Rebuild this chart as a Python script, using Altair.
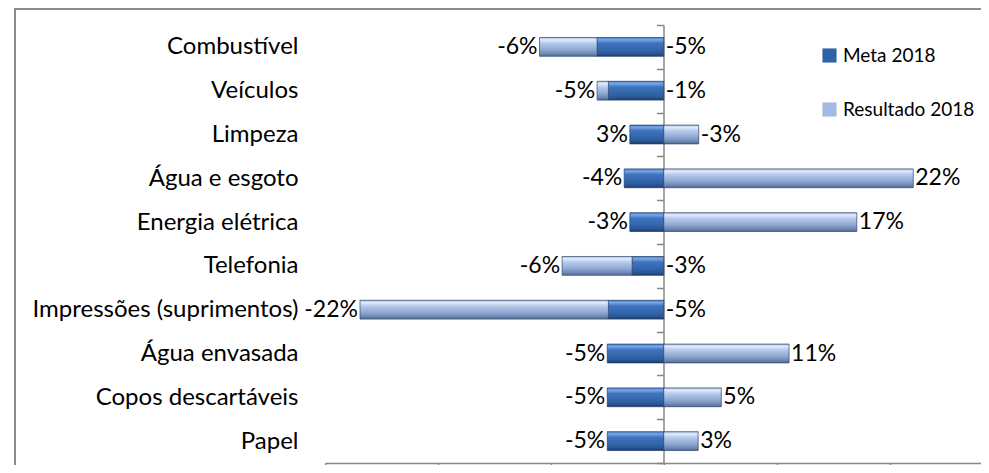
import altair as alt
import pandas as pd

# ---- data ----
categories = ["Combustível", "Veículos", "Limpeza", "Água e esgoto", "Energia elétrica",
              "Telefonia", "Impressões (suprimentos)", "Água envasada",
              "Copos descartáveis", "Papel"]
meta_2018 = [-5.9, -4.9, -3.0, -3.5, -3.0, -2.8, -4.9, -5.0, -5.0, -5.0]
resultado_2018 = [-5.1, -1.0, 3.1, 22.1, 17.1, -6.2, -22.0, 11.1, 5.1, 3.05]
left_labels = ["-6%", "-5%", "3%", "-4%", "-3%", "-6%", "-22%", "-5%", "-5%", "-5%"]
right_labels = ["-5%", "-1%", "-3%", "22%", "17%", "-3%", "-5%", "11%", "5%", "3%"]
series_names = ["Meta 2018", "Resultado 2018"]
x_ticks = [-30, -20, -10, 0, 10, 20]

FONT = "Lato"
GRAY = "#878787"

rows = []
for c, m, r, ll, rl in zip(categories, meta_2018, resultado_2018, left_labels, right_labels):
    if r < 0:
        rx, rx2 = m, m + r
    else:
        rx, rx2 = 0, r
    rows.append(dict(cat=c, m0=0, m1=m, r0=rx, r1=rx2,
                     lx=min(m, rx2), rxl=max(0, rx2), ll=ll, rl=rl))
df = pd.DataFrame(rows)

xscale = alt.Scale(domain=[-30, 28.1], nice=False, zero=False)
yscale = alt.Scale(domain=categories, paddingInner=0, paddingOuter=0)

xaxis = alt.Axis(values=x_ticks, labels=False, grid=False, title=None,
                 domainColor=GRAY, domainWidth=1.5, tickColor=GRAY,
                 tickWidth=1.5, tickSize=12)
yaxis = alt.Axis(title=None, offset=-338.5, tickBand="extent", tickSize=7,
                 tickColor=GRAY, tickWidth=1.5, domainColor=GRAY, domainWidth=1.5,
                 labelPadding=358.5, labelFont=FONT, labelFontSize=24, labelLimit=600,
                 labelColor="black", labelAlign="right", grid=False)

dark_grad = {"gradient": "linear", "x1": 0, "y1": 0, "x2": 0, "y2": 1,
             "stops": [{"offset": 0, "color": "#4a7cc4"},
                       {"offset": 0.12, "color": "#78a8e8"},
                       {"offset": 0.3, "color": "#3f73bd"},
                       {"offset": 0.65, "color": "#3266ac"},
                       {"offset": 0.85, "color": "#2a5795"},
                       {"offset": 1, "color": "#1d3d6c"}]}
light_grad = {"gradient": "linear", "x1": 0, "y1": 0, "x2": 0, "y2": 1,
              "stops": [{"offset": 0, "color": "#9fb8e0"},
                        {"offset": 0.12, "color": "#e2edfc"},
                        {"offset": 0.3, "color": "#b6cbec"},
                        {"offset": 0.65, "color": "#8fa8d2"},
                        {"offset": 0.85, "color": "#7189b4"},
                        {"offset": 1, "color": "#506894"}]}

base = alt.Chart(df)
y_plain = alt.Y("cat:N", scale=yscale, sort=categories)

meta_bars = base.mark_bar(fill=dark_grad, stroke="#1f3a66", strokeWidth=0.7,
                          height=alt.RelativeBandSize(0.43)).encode(
    x=alt.X("m0:Q", scale=xscale, axis=xaxis),
    x2="m1:Q",
    y=alt.Y("cat:N", scale=yscale, axis=yaxis, sort=categories),
)
res_bars = base.mark_bar(fill=light_grad, stroke="#2f4670", strokeWidth=0.7,
                         height=alt.RelativeBandSize(0.43)).encode(
    x=alt.X("r0:Q", scale=xscale),
    x2="r1:Q",
    y=y_plain,
)
left_text = base.mark_text(align="right", baseline="middle", dx=-2, font=FONT,
                           fontSize=23, color="black").encode(
    x=alt.X("lx:Q", scale=xscale),
    y=y_plain,
    text="ll:N",
)
right_text = base.mark_text(align="left", baseline="middle", dx=2, font=FONT,
                            fontSize=23, color="black").encode(
    x=alt.X("rxl:Q", scale=xscale),
    y=y_plain,
    text="rl:N",
)

legend_df = pd.DataFrame({"serie": series_names, "v": [0, 0], "cat": ["Papel", "Papel"]})
legend_layer = alt.Chart(legend_df).mark_square(opacity=0).encode(
    x=alt.X("v:Q", scale=xscale),
    y=y_plain,
    color=alt.Color("serie:N",
                    scale=alt.Scale(domain=series_names, range=["#2f62a8", "#a3bbe0"]),
                    legend=alt.Legend(orient="none", legendX=495, legendY=21, title=None,
                                      symbolType="square", symbolSize=200,
                                      symbolOpacity=1, symbolStrokeWidth=0,
                                      labelFont=FONT, labelFontSize=19,
                                      labelColor="black", labelOffset=4,
                                      rowPadding=34, padding=0)),
)

border_df = alt.Data(values=[{"a": 1}])
border = alt.Chart(border_df).mark_rect(fill="white", fillOpacity=0, stroke="#8c8c8c",
                                        strokeWidth=2).encode(
    x=alt.value(-310), x2=alt.value(720), y=alt.value(-16), y2=alt.value(480))

chart = alt.layer(border, meta_bars, res_bars, left_text, right_text, legend_layer).properties(
    width=656, height=438, autosize="none",
    padding={"left": 317, "top": 17, "right": 0, "bottom": 2},
).configure_view(strokeWidth=0)

chart.save("out.html", embed_options={"renderer": "svg", "actions": False})
